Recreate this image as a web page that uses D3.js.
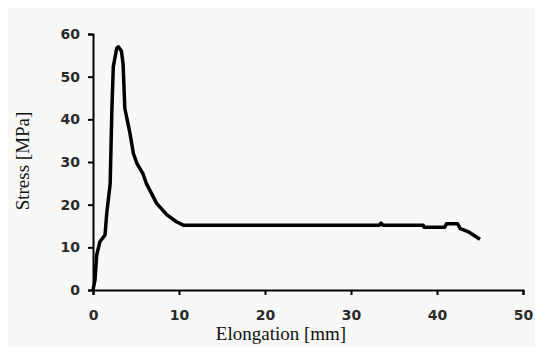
<!DOCTYPE html>
<html>
<head>
<meta charset="utf-8">
<script src="https://cdn.jsdelivr.net/npm/d3@7"></script>
<style>
  body { margin: 0; background: #fff; }
  .tick text { font-family: "DejaVu Sans", sans-serif; font-weight: bold; font-size: 14px; fill: #2a2a2a; }
  .title { font-family: "Liberation Serif", "Times New Roman", serif; font-size: 19px; fill: #111; }
</style>
</head>
<body>
<div id="chart"></div>
<script>
// elongation [mm] and stress [MPa]
const elongation = [0, 0.23, 0.43, 0.8, 1.4, 1.6, 2.0, 2.05, 2.2, 2.36, 2.75, 2.95, 3.3, 3.5, 3.7, 4.3, 4.7, 5.1, 5.8, 6.2, 7.4, 8.6, 9.7, 10.5, 20, 33.3, 33.5, 33.7, 38.4, 38.5, 40.9, 41.1, 42.4, 42.7, 43.6, 45];
const stress     = [0, 2.3,  8.2,  11.3, 12.9, 18, 25,  29.7, 42.6, 52.3, 56.6, 57,   56,  53,  42.6, 36.7, 32, 29.7, 27.3, 25, 20.3, 17.6, 16, 15.2, 15.2, 15.2, 15.7, 15.2, 15.2, 14.7, 14.7, 15.5, 15.5, 14.4, 13.7, 11.9];
const xTicks = [0, 10, 20, 30, 40, 50];
const yTicks = [0, 10, 20, 30, 40, 50, 60];

const W = 535, H = 347;
const margin = {top: 34, right: 12, bottom: 57, left: 93};
const height = H - margin.top - margin.bottom;

const svg = d3.select('#chart')
  .append('svg')
  .attr('width', W)
  .attr('height', H);

// light grey backdrop with a thin white edge at top/left
svg.append('rect')
  .attr('x', 8).attr('y', 8)
  .attr('width', W - 8).attr('height', H - 8)
  .style('fill', '#f8f8f8');

const g = svg.append('g')
  .attr('transform', `translate(${margin.left},${margin.top})`);

const x = d3.scaleLinear().domain([0, 50]).range([0, 430]);
const y = d3.scaleLinear().domain([0, 60]).range([height, 0]);

const xAxis = d3.axisBottom(x).tickValues(xTicks).tickSize(5).tickPadding(15);
const yAxis = d3.axisLeft(y).tickValues(yTicks).tickSize(5).tickPadding(8);

g.append('g')
  .attr('class', 'x axis')
  .attr('transform', `translate(0,${height})`)
  .call(xAxis);

g.append('g')
  .attr('class', 'y axis')
  .call(yAxis);

g.selectAll('.axis path, .axis line')
  .style('stroke', '#000')
  .style('stroke-width', 2);

// the stress-elongation curve
const pts = elongation.map((e, i) => [e, stress[i]]);
const line = d3.line()
  .x(d => x(d[0]))
  .y(d => y(d[1]));

g.append('path')
  .attr('d', line(pts))
  .style('fill', 'none')
  .style('stroke', '#000')
  .style('stroke-width', 3.5)
  .style('stroke-linejoin', 'round');

// axis titles
svg.append('text')
  .attr('class', 'title')
  .attr('x', 281)
  .attr('y', 340)
  .attr('text-anchor', 'middle')
  .text('Elongation [mm]');

svg.append('text')
  .attr('class', 'title')
  .attr('transform', 'translate(29,161) rotate(-90)')
  .attr('text-anchor', 'middle')
  .text('Stress [MPa]');
</script>
</body>
</html>
